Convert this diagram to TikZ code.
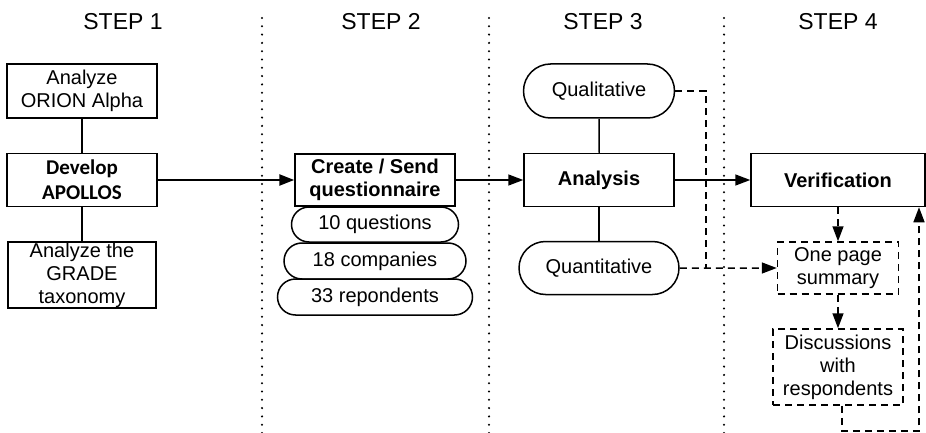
\documentclass[tikz,border=0pt]{standalone}
\usepackage{fontspec}
\setmainfont{Liberation Sans}
\newfontfamily\calibrifont{Carlito}
\usetikzlibrary{arrows.meta,shapes.misc}

\begin{document}
\begin{tikzpicture}[x=1pt, y=-1pt, font=\fontsize{20}{23}\selectfont,
    >={Triangle[length=15pt, width=11pt]}]
  \useasboundingbox (0,0) rectangle (926,433);
  \tikzstyle{stepbox}=[draw, line width=1.5pt, align=center, inner sep=0pt]
  \tikzstyle{pill}=[stepbox, rounded rectangle]
  \tikzstyle{dashbox}=[stepbox, dash pattern=on 7pt off 5pt]
  \tikzstyle{link}=[line width=1.5pt]
  \tikzstyle{dashlink}=[line width=1.5pt, dash pattern=on 7pt off 5pt]
  \tikzstyle{divider}=[line width=2.3pt, line cap=round, dash pattern=on 0pt off 8.3pt]
  \tikzstyle{heading}=[font=\fontsize{23}{27}\selectfont, anchor=base]

  % dividers and headings
  \foreach \x in {262,489,724} \draw[divider] (\x,18) -- (\x,433);
  \node[heading] (h1) at (123,30) {STEP 1};
  \node[heading] (h2) at (381,30) {STEP 2};
  \node[heading] (h3) at (603,30) {STEP 3};
  \node[heading] (h4) at (838,30) {STEP 4};

  % step 1
  \node[stepbox, minimum width=150pt, minimum height=54pt] (orion) at (82,91) {Analyze\\ORION Alpha};
  \node[stepbox, minimum width=150pt, minimum height=53pt,
        font=\calibrifont\bfseries\fontsize{21}{25}\selectfont] (develop) at (82,180) {Develop\\APOLLOS};
  \node[stepbox, minimum width=148pt, minimum height=66pt] (grade) at (82,275) {Analyze the\\GRADE\\taxonomy};

  % step 2
  \node[stepbox, minimum width=160pt, minimum height=52pt, font=\bfseries\fontsize{20}{23}\selectfont] (create) at (375,180) {Create / Send\\questionnaire};
  \node[pill, minimum width=167pt, minimum height=35pt] (questions) at (375,224.5) {10 questions};
  \node[pill, minimum width=182pt, minimum height=36pt] (companies) at (375,261) {18 companies};
  \node[pill, minimum width=195pt, minimum height=36pt] (respondents) at (375,297) {33 repondents};

  % step 3
  \node[pill, minimum width=151pt, minimum height=54pt] (quali) at (599,91) {Qualitative};
  \node[stepbox, minimum width=150pt, minimum height=53pt, font=\bfseries\fontsize{20}{23}\selectfont] (analysis) at (599,180) {Analysis};
  \node[pill, minimum width=160pt, minimum height=53pt] (quanti) at (599,268) {Quantitative};

  % step 4
  \node[stepbox, minimum width=174pt, minimum height=53pt, font=\bfseries\fontsize{20}{23}\selectfont] (verif) at (838,180) {Verification};
  \node[dashbox, minimum width=121pt, minimum height=52pt] (summary) at (838,268) {One page\\summary};
  \node[dashbox, minimum width=130pt, minimum height=76pt] (discuss) at (838,367) {Discussions\\with\\respondents};

  % connectors
  \draw[link] (orion) -- (develop);
  \draw[link] (develop) -- (grade);
  \draw[link] (quali) -- (analysis);
  \draw[link] (analysis) -- (quanti);
  \draw[->, line width=2.4pt] (develop) -- (create);
  \draw[link, ->] (create) -- (analysis);
  \draw[link, ->] (analysis) -- (verif);

  \coordinate (merge) at (706,268);
  \coordinate (back) at (919,431);
  \draw[dashlink] (quali.east) -| (merge);
  \draw[dashlink, ->] (quanti) -- (summary);
  \draw[dashlink, ->] (verif) -- (summary);
  \draw[dashlink, ->] (summary) -- (discuss);
  \draw[dashlink, ->] ([xshift=4pt]discuss.south) |- (back) -- (back |- verif.south);
\end{tikzpicture}
\end{document}
